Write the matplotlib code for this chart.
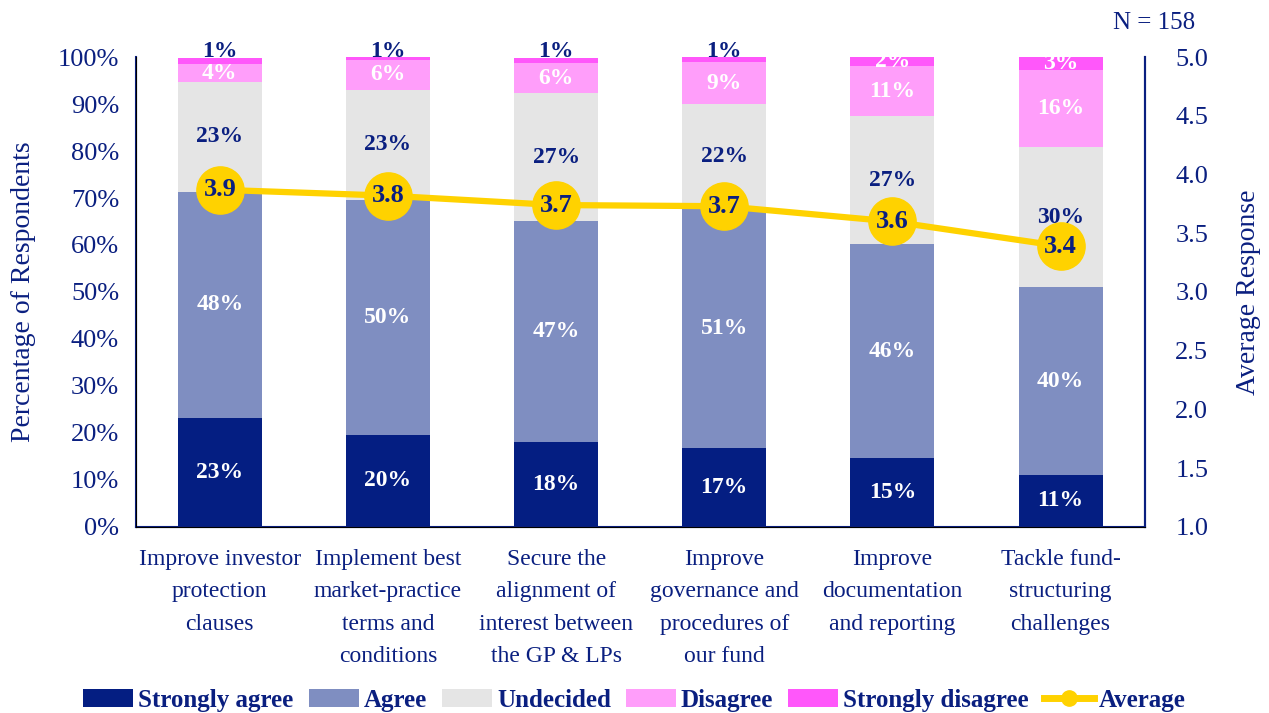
import matplotlib.pyplot as plt
import numpy as np

categories = [
    "Improve investor\nprotection\nclauses",
    "Implement best\nmarket-practice\nterms and\nconditions",
    "Secure the\nalignment of\ninterest between\nthe GP & LPs",
    "Improve\ngovernance and\nprocedures of\nour fund",
    "Improve\ndocumentation\nand reporting",
    "Tackle fund-\nstructuring\nchallenges",
]
strongly_agree = [23.2, 19.6, 18.1, 16.8, 14.6, 11.1]
agree = [48.1, 50.0, 47.0, 50.9, 45.6, 39.9]
undecided = [23.4, 23.4, 27.2, 22.3, 27.2, 29.9]
disagree = [3.8, 6.4, 6.4, 8.9, 10.7, 16.3]
strongly_disagree = [1.3, 0.6, 1.1, 1.1, 2.1, 2.8]
average = [3.87, 3.82, 3.74, 3.73, 3.60, 3.39]

navy = "#0A1F80"
series = [
    ("Strongly agree", strongly_agree, "#041E82", "white"),
    ("Agree", agree, "#7F8EC1", "white"),
    ("Undecided", undecided, "#E5E5E5", navy),
    ("Disagree", disagree, "#FF9EFA", "white"),
    ("Strongly disagree", strongly_disagree, "#FF57FA", "white"),
]

plt.rcParams["font.family"] = ["Liberation Serif", "DejaVu Serif"]

fig, ax = plt.subplots(figsize=(12.69, 7.13), dpi=100)
fig.subplots_adjust(left=0.107, right=0.902, top=0.92, bottom=0.261)

x = np.arange(len(categories))
bottom = np.zeros(len(categories))
handles = []
for name, vals, col, tcol in series:
    vals = np.array(vals)
    b = ax.bar(x, vals, 0.5, bottom=bottom, color=col, label=name)
    handles.append(b)
    for i, v in enumerate(vals):
        lab = "%d%%" % round(v)
        if name == "Strongly disagree" and round(v) <= 1:
            ax.text(x[i], 101.2, lab, ha="center", va="center", color=navy,
                    fontsize=17, fontweight="bold")
        else:
            ax.text(x[i], bottom[i] + v / 2, lab, ha="center", va="center",
                    color=tcol, fontsize=17, fontweight="bold")
    bottom += vals

ax.set_xlim(-0.5, len(categories) - 0.5)
ax.set_ylim(0, 100)
ax.set_yticks(np.arange(0, 101, 10))
ax.set_yticklabels(["%d%%" % t for t in range(0, 101, 10)])
ax.set_xticks(x)
ax.set_xticklabels(categories, linespacing=1.7)
ax.tick_params(axis="both", length=0, colors=navy, labelsize=17)
ax.tick_params(axis="y", labelsize=19, pad=12)
ax.tick_params(axis="x", pad=16)
ax.set_ylabel("Percentage of Respondents", color=navy, fontsize=20, labelpad=16)
ax.spines["top"].set_visible(False)
for s in ["left", "bottom", "right"]:
    ax.spines[s].set_color(navy)
    ax.spines[s].set_linewidth(1.5)

ax2 = ax.twinx()
ax2.set_ylim(1, 5)
ax2.set_yticks(np.arange(1, 5.01, 0.5))
ax2.set_yticklabels(["%.1f" % t for t in np.arange(1, 5.01, 0.5)])
ax2.tick_params(axis="y", length=0, colors=navy, labelsize=19, pad=22)
ax2.spines["top"].set_visible(False)
ax2.spines["right"].set_color(navy)
ax2.spines["right"].set_linewidth(1.5)
ax2.set_ylabel("Average Response", color=navy, fontsize=20, labelpad=20)
line, = ax2.plot(x, average, color="#FFD200", lw=4.5, marker="o",
                 markersize=34, label="Average", zorder=5)
for i, v in enumerate(average):
    ax2.text(x[i], v, "%.1f" % v, ha="center", va="center", color=navy,
             fontsize=19, fontweight="bold", zorder=6)

fig.text(0.942, 0.968, "N = 158", ha="right", va="center", color=navy, fontsize=18)

leg_line, = ax2.plot([], [], color="#FFD200", lw=5, marker="o", markersize=11)
leg = fig.legend(handles + [leg_line], [s[0] for s in series] + ["Average"],
                 loc="lower center", bbox_to_anchor=(0.5, -0.03), ncol=6,
                 frameon=False, fontsize=18, handlelength=2.0, handleheight=0.75,
                 handletextpad=0.2, columnspacing=0.6)
for t in leg.get_texts():
    t.set_color(navy)
    t.set_fontweight("bold")

plt.savefig("out.png", dpi=100)
